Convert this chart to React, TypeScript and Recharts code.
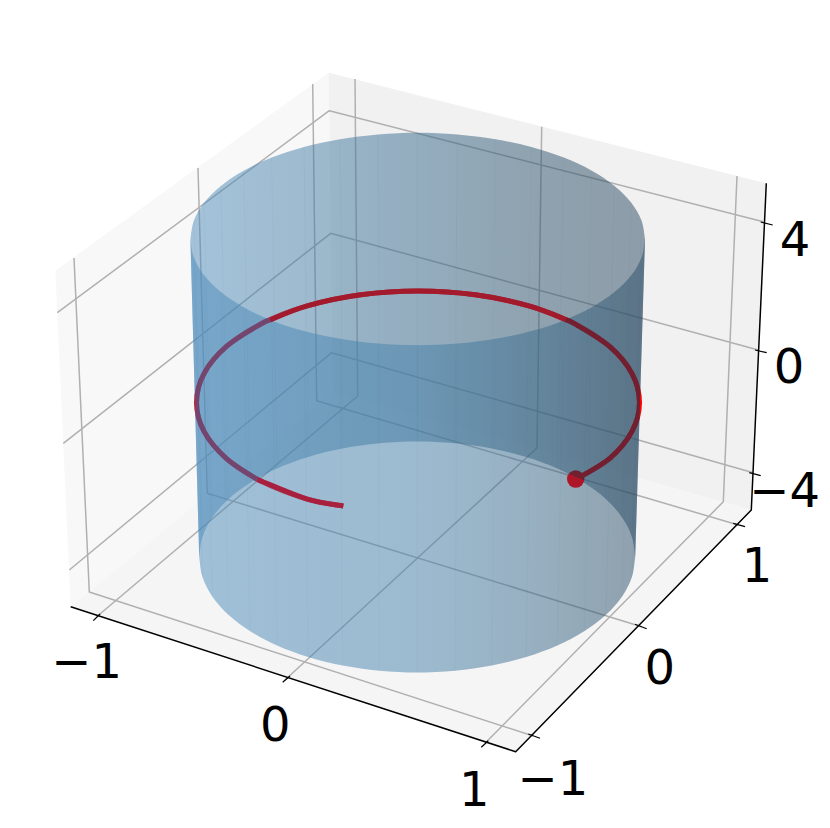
import React from "react";
import { ScatterChart, Scatter, XAxis, YAxis } from "recharts";

type P = { x: number; y: number };
type Run = { pts: P[]; smooth?: boolean };

const zip = (xs: number[], ys: number[]): P[] => xs.map((x, i) => ({ x, y: ys[i] }));
const pairs = (a: number[][]): P[] => a.map(([x, y]) => ({ x, y }));

// Values, in the picture's projected plane
const topEdgeX = [190.4, 193.9, 204.1, 220.9, 243.6, 271.6, 304, 340, 378.2, 417.7, 457.2, 495.4, 531.4, 563.8, 591.8, 614.5, 631.3, 641.5, 645];
const topBackY = [239, 220.6, 202.7, 185.9, 170.7, 157.6, 147, 139.2, 134.4, 132.8, 134.4, 139.2, 147, 157.6, 170.7, 185.9, 202.7, 220.6, 239];
const topFrontY = [239, 257.4, 275.3, 292.1, 307.3, 320.4, 331, 338.8, 343.6, 345.2, 343.6, 338.8, 331, 320.4, 307.3, 292.1, 275.3, 257.4, 239];
const bottomEdgeX = [199.2, 202.5, 212.3, 228.4, 250.2, 277.1, 308.2, 342.6, 379.4, 417.2, 455, 491.8, 526.2, 557.3, 584.2, 606, 622.1, 631.9, 635.2];
const bottomBackY = [557, 536.9, 517.5, 499.2, 482.8, 468.5, 457, 448.5, 443.3, 441.5, 443.3, 448.5, 457, 468.5, 482.8, 499.2, 517.5, 536.9, 557];
const bottomFrontY = [557, 577.1, 596.5, 614.8, 631.2, 645.5, 657, 665.5, 670.7, 672.5, 670.7, 665.5, 657, 645.5, 631.2, 614.8, 596.5, 577.1, 557];

const helixX = [575.5, 609.8, 632, 639.5, 632, 609.8, 574.6, 528.8, 475.3, 418, 360.7, 307.2, 261.4, 226.2, 204, 196.5, 204, 226.2, 261.4, 307.2, 343.3];
const helixY = [479.5, 458.3, 431.4, 402.5, 373.6, 346.7, 323.7, 305.9, 294.8, 291, 294.8, 305.9, 323.7, 346.7, 373.6, 402.5, 431.4, 458.3, 481.3, 499.1, 506];
const helixRightDark = pairs([[575.5, 479.5], [609.8, 458.3], [632, 431.4], [639.5, 402.5], [632, 373.6], [609.8, 346.7], [574.6, 323.7], [565.7, 319.7]]);
const helixTopBright = pairs([[565.7, 319.7], [528.8, 305.9], [475.3, 294.8], [418, 291], [360.7, 294.8], [307.2, 305.9], [270, 320]]);
const helixLeftDark = pairs([[270, 320], [261.4, 323.7], [226.2, 346.7], [204, 373.6], [196.5, 402.5], [204, 431.4], [226.2, 458.3], [257.5, 479.6]]);
const helixTail = pairs([[257.5, 479.6], [307.2, 499.1], [343.3, 506]]);
const markerPoint = [{ x: 575.7, y: 479 }];

const leftPane = pairs([[55.3, 270.7], [328.7, 72.7], [332.5, 392], [70.7, 606.7]]);
const rightPane = pairs([[328.7, 72.7], [766.3, 183.3], [751.3, 510], [332.5, 392]]);
const floorPane = pairs([[70.7, 606.7], [515.7, 751.7], [751.3, 510], [332.5, 392]]);

const gridLines = [
  [[57.3, 312.7], [329.3, 110.7], [763.3, 221.7]],
  [[63.3, 443.3], [330.7, 233.3], [758.3, 350]],
  [[69.3, 570], [331.7, 352.7], [753.3, 472.7]],
  [[96.7, 616.7], [357.7, 396], [355, 79]],
  [[285, 680], [537, 448], [541.7, 126.7]],
  [[485, 743.3], [723.3, 501.7], [737, 176]],
  [[533.3, 736], [89.3, 592], [74, 258]],
  [[641.7, 626.7], [207.3, 493.3], [198, 168]],
  [[738.3, 525], [316.7, 400.7], [312.7, 84]],
];
const axisLine = pairs([[70.7, 606.7], [515.7, 751.7], [751.3, 510], [766.3, 183.3]]);
const tickMarks = [
  [[93.3, 620.7], [100, 614]],
  [[282.7, 682.3], [290, 676]],
  [[481.3, 747.3], [488.3, 740.7]],
  [[528.3, 734], [540, 738.3]],
  [[635, 624.3], [646.7, 628.7]],
  [[733.3, 523.3], [745, 526.7]],
  [[749.3, 472.7], [760.7, 475.7]],
  [[755, 350], [766.7, 352.7]],
  [[760.7, 222], [772.7, 225]],
];
const tickLabels = ["\u22121", "0", "1", "\u22121", "0", "1", "\u22124", "0", "4"];
const tickLabelX = [86.7, 275.3, 474.3, 553, 659.8, 757, 784.7, 789, 795];
const tickLabelY = [660.7, 723.7, 788, 777, 666, 564, 489, 365, 238];

const topBack = zip(topEdgeX, topBackY);
const topFront = zip(topEdgeX, topFrontY);
const bottomBack = zip(bottomEdgeX, bottomBackY);
const bottomFront = zip(bottomEdgeX, bottomFrontY);
const rev = (a: P[]) => [...a].reverse();
const silhouette: Run[] = [{ pts: topBack, smooth: true }, { pts: rev(bottomFront), smooth: true }];

function runPath(points: P[], runs: Run[]): string {
  let i = 0;
  let d = "";
  runs.forEach((r, k) => {
    const p = points.slice(i, i + r.pts.length);
    i += r.pts.length;
    d += `${k === 0 ? "M" : "L"}${p[0].x},${p[0].y}`;
    for (let j = 0; j < p.length - 1; j++) {
      if (!r.smooth) {
        d += `L${p[j + 1].x},${p[j + 1].y}`;
        continue;
      }
      const a = p[Math.max(j - 1, 0)];
      const b = p[j];
      const c = p[j + 1];
      const e = p[Math.min(j + 2, p.length - 1)];
      d += `C${b.x + (c.x - a.x) / 6},${b.y + (c.y - a.y) / 6} ${c.x - (e.x - b.x) / 6},${c.y - (e.y - b.y) / 6} ${c.x},${c.y}`;
    }
  });
  return d;
}

const nothing = () => <g />;

function series(key: string, runs: Run[], style: Record<string, unknown>, clip?: Run[]) {
  const main = runs.flatMap((r) => r.pts);
  const extra = clip ? clip.flatMap((r) => r.pts) : [];
  const n = main.length;
  return (
    <Scatter
      key={key}
      data={[...main, ...extra]}
      dataKey="y"
      isAnimationActive={false}
      shape={nothing}
      legendType="none"
      line={(p: { points: { x: number; y: number }[] }) => {
        const d = runPath(p.points.slice(0, n), runs);
        if (!clip) return <path d={d} fill="none" {...style} />;
        const id = `clip-${key}`;
        return (
          <g>
            <clipPath id={id}>
              <path d={runPath(p.points.slice(n), clip) + "Z"} />
            </clipPath>
            <path d={d} fill="none" clipPath={`url(#${id})`} {...style} />
          </g>
        );
      }}
    />
  );
}

const labelData = tickLabels.map((label, i) => ({ x: tickLabelX[i], y: tickLabelY[i], label }));
const LINE = { strokeLinejoin: "round" as const };
const HELIX_W = 5;
const MESH = { stroke: "#2a5578", strokeOpacity: 0.035, strokeWidth: 1 };

export default function App() {
  return (
    <div style={{ position: "absolute", left: 0, top: 0, width: 830, height: 828, background: "#fff" }}>
      <ScatterChart width={830} height={828} margin={{ top: 0, right: 0, bottom: 0, left: 0 }}>
        <defs>
          <linearGradient id="backWall" x1="0" y1="0" x2="1" y2="0">
            <stop offset="0" stopColor="rgb(80,142,188)" />
            <stop offset="0.25" stopColor="rgb(68,125,165)" />
            <stop offset="0.5" stopColor="rgb(54,105,140)" />
            <stop offset="0.75" stopColor="rgb(46,84,110)" />
            <stop offset="1" stopColor="rgb(42,72,96)" />
          </linearGradient>
          <linearGradient id="frontWall" x1="0" y1="0" x2="1" y2="0">
            <stop offset="0" stopColor="rgb(75,139,187)" />
            <stop offset="0.5" stopColor="rgb(68,128,170)" />
            <stop offset="0.75" stopColor="rgb(58,108,142)" />
            <stop offset="1" stopColor="rgb(42,75,100)" />
          </linearGradient>
          <linearGradient id="markerFill" x1="0.7" y1="0.04" x2="0.3" y2="0.96">
            <stop offset="0.385" stopColor="#70202f" />
            <stop offset="0.385" stopColor="#ad1528" />
          </linearGradient>
        </defs>
        <XAxis type="number" dataKey="x" domain={[0, 830]} hide />
        <YAxis type="number" dataKey="y" domain={[0, 828]} reversed hide />
        {series("pane-left", [{ pts: leftPane }], { fill: "#f8f8f8" })}
        {series("pane-right", [{ pts: rightPane }], { fill: "#f1f1f1" })}
        {series("pane-floor", [{ pts: floorPane }], { fill: "#f5f5f5" })}
        {gridLines.map((g, i) => series(`grid-${i}`, [{ pts: pairs(g) }], { stroke: "#b0b0b0", strokeWidth: 1.5, ...LINE }))}
        {series("axis", [{ pts: axisLine }], { stroke: "#000", strokeWidth: 1.5, ...LINE })}
        {tickMarks.map((g, i) => series(`tick-${i}`, [{ pts: pairs(g) }], { stroke: "#000", strokeWidth: 1.2 }))}
        {series("helix-base", [{ pts: zip(helixX, helixY), smooth: true }], { stroke: "#ff0000", strokeWidth: HELIX_W })}
        {series("wall-back", [{ pts: topBack, smooth: true }, { pts: rev(bottomBack), smooth: true }], { fill: "url(#backWall)", fillOpacity: 0.5 })}
        {series("wall-front", [{ pts: topFront, smooth: true }, { pts: rev(bottomFront), smooth: true }], { fill: "url(#frontWall)", fillOpacity: 0.5 })}
        {topEdgeX.slice(1, -1).map((_, i) =>
          series(`mesh-back-${i}`, [{ pts: [topBack[i + 1], bottomBack[i + 1]] }], MESH)
        )}
        {topEdgeX.slice(1, -1).map((_, i) =>
          series(`mesh-front-${i}`, [{ pts: [topFront[i + 1], bottomFront[i + 1]] }], MESH)
        )}
        {series("helix-right", [{ pts: helixRightDark, smooth: true }], { stroke: "#741f30", strokeWidth: HELIX_W }, silhouette)}
        {series("helix-top", [{ pts: helixTopBright, smooth: true }], { stroke: "#a31a2c", strokeWidth: HELIX_W }, silhouette)}
        {series("helix-left", [{ pts: helixLeftDark, smooth: true }], { stroke: "#74466f", strokeWidth: HELIX_W }, silhouette)}
        {series("helix-tail", [{ pts: helixTail, smooth: true }], { stroke: "#a9203f", strokeWidth: HELIX_W }, silhouette)}
        <Scatter
          data={markerPoint}
          dataKey="y"
          isAnimationActive={false}
          legendType="none"
          shape={(p: { cx: number; cy: number }) => <circle cx={p.cx} cy={p.cy} r={8.7} fill="url(#markerFill)" />}
        />
        <Scatter
          data={labelData}
          dataKey="y"
          isAnimationActive={false}
          legendType="none"
          shape={(p: { cx: number; cy: number; payload: { label: string } }) => (
            <text x={p.cx} y={p.cy + 17.5} textAnchor="middle" fontFamily="'DejaVu Sans'" fontSize={48} fill="#000">
              {p.payload.label}
            </text>
          )}
        />
      </ScatterChart>
    </div>
  );
}
